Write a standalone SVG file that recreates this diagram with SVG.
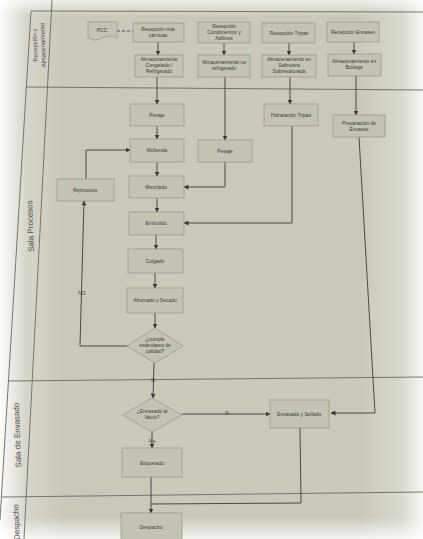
<svg xmlns="http://www.w3.org/2000/svg" width="423" height="539" viewBox="0 0 423 539">
<defs>
<style>
.bx{fill:#c4c2b3;stroke:#9c9b90;stroke-width:0.8}
.t{font-family:"Liberation Sans",Arial,sans-serif;font-size:5px;fill:#3c3c38;text-anchor:middle}
.ln{fill:none;stroke:#4a4a44;stroke-width:1}
.lane{fill:none;stroke:#6a6a60;stroke-width:0.9}
.lt{font-family:"Liberation Sans",Arial,sans-serif;font-size:8px;fill:#4a4a44;text-anchor:middle}
.lb{font-family:"Liberation Sans",Arial,sans-serif;font-size:5px;fill:#3c3c38;text-anchor:middle}
</style>
<marker id="ar" viewBox="0 0 10 10" refX="9" refY="5" markerWidth="5" markerHeight="5" orient="auto"><path d="M0,0L10,5L0,10z" fill="#3a3a34"/></marker>
<linearGradient id="gl" x1="0" y1="0" x2="1" y2="0">
<stop offset="0" stop-color="#ffffff" stop-opacity="0.95"/>
<stop offset="0.06" stop-color="#ffffff" stop-opacity="0.25"/>
<stop offset="0.15" stop-color="#ffffff" stop-opacity="0"/>
<stop offset="0.85" stop-color="#ffffff" stop-opacity="0"/>
<stop offset="0.95" stop-color="#ffffff" stop-opacity="0.3"/>
<stop offset="1" stop-color="#ffffff" stop-opacity="0.85"/>
</linearGradient>
<linearGradient id="gv" x1="0" y1="0" x2="0" y2="1">
<stop offset="0" stop-color="#ffffff" stop-opacity="0.7"/>
<stop offset="0.03" stop-color="#ffffff" stop-opacity="0"/>
<stop offset="0.96" stop-color="#ffffff" stop-opacity="0"/>
<stop offset="1" stop-color="#ffffff" stop-opacity="0.8"/>
</linearGradient>
</defs>
<rect width="423" height="539" fill="#cac8b9"/>
<rect width="423" height="539" fill="url(#gl)"/>
<rect width="423" height="539" fill="url(#gv)"/>

<g id="lanes">
<line class="lane" x1="31" y1="11" x2="423" y2="12"/>
<line class="lane" x1="31" y1="11" x2="0" y2="520"/>
<line class="lane" x1="52" y1="0" x2="24" y2="539"/>
<line class="lane" x1="26" y1="87" x2="423" y2="90"/>
<line class="lane" x1="8" y1="381" x2="423" y2="377"/>
<line class="lane" x1="2" y1="497" x2="423" y2="492"/>
<text class="lt" style="font-size:6px" transform="translate(37,45) rotate(-92)">Recepción y</text>
<text class="lt" style="font-size:6px" transform="translate(45,45) rotate(-92)">Almacenamiento</text>
<text class="lt" transform="translate(33,226) rotate(-92)">Sala Procesos</text>
<text class="lt" transform="translate(20,435) rotate(-92)">Sala de Envasado</text>
<text class="lt" transform="translate(19,522) rotate(-92)">Despacho</text>
</g>

<g id="connectors">
<line class="ln" x1="117" y1="31" x2="133" y2="31" stroke-dasharray="3,2"/>
<line class="ln" x1="158" y1="42" x2="158" y2="55" marker-end="url(#ar)"/>
<line class="ln" x1="224" y1="43" x2="224" y2="55" marker-end="url(#ar)"/>
<line class="ln" x1="289" y1="43" x2="289" y2="55" marker-end="url(#ar)"/>
<line class="ln" x1="354" y1="42" x2="354" y2="54" marker-end="url(#ar)"/>
<line class="ln" x1="157" y1="77" x2="157" y2="104" marker-end="url(#ar)"/>
<line class="ln" x1="225" y1="77" x2="225" y2="140" marker-end="url(#ar)"/>
<line class="ln" x1="290" y1="77" x2="290" y2="104" marker-end="url(#ar)"/>
<line class="ln" x1="356" y1="76" x2="356" y2="115" marker-end="url(#ar)"/>
<line class="ln" x1="157" y1="126" x2="157" y2="139" marker-end="url(#ar)"/>
<line class="ln" x1="157" y1="162" x2="157" y2="176" marker-end="url(#ar)"/>
<line class="ln" x1="157" y1="198" x2="157" y2="212" marker-end="url(#ar)"/>
<line class="ln" x1="156" y1="235" x2="156" y2="249" marker-end="url(#ar)"/>
<line class="ln" x1="155" y1="273" x2="155" y2="288" marker-end="url(#ar)"/>
<line class="ln" x1="155" y1="313" x2="155" y2="328" marker-end="url(#ar)"/>
<polyline class="ln" points="225,162 225,187 184,187" marker-end="url(#ar)"/>
<polyline class="ln" points="292,126 292,223 184,223" marker-end="url(#ar)"/>
<polyline class="ln" points="86,179 86,150 130,150" marker-end="url(#ar)"/>
<polyline class="ln" points="127,346 80,346 84,201" marker-end="url(#ar)"/>
<line class="ln" x1="154" y1="363" x2="153" y2="398" marker-end="url(#ar)"/>
<line class="ln" x1="182" y1="414" x2="270" y2="414" marker-end="url(#ar)"/>
<polyline class="ln" points="359,137 375,413 331,413" marker-end="url(#ar)"/>
<line class="ln" x1="152" y1="432" x2="152" y2="448" marker-end="url(#ar)"/>
<line class="ln" x1="151" y1="477" x2="151" y2="513" marker-end="url(#ar)"/>
<polyline class="ln" points="300,428 301,503 151,504"/>
<text class="lb" x="82" y="295">NO</text>
<text class="lb" x="153" y="382">Si</text>
<text class="lb" x="227" y="415">Si</text>
<text class="lb" x="152" y="443">No</text>
</g>

<g id="pcc"><path class="bx" d="M88,22 H117 V38 Q109,34 102,38 Q95,42 88,38 Z"/><text class="t" x="102" y="32">PCC</text></g>
<g id="rec_carnes"><rect class="bx" x="133" y="23" width="51" height="19"/><text class="t" x="158" y="31">Recepción mat</text><text class="t" x="158" y="37">cárnicas</text></g>
<g id="rec_condimentos"><rect class="bx" x="198" y="22" width="52" height="21"/><text class="t" x="224" y="28">Recepción</text><text class="t" x="224" y="34">Condimentos y</text><text class="t" x="224" y="40">Aditivos</text></g>
<g id="rec_tripas"><rect class="bx" x="262" y="23" width="53" height="20"/><text class="t" x="289" y="35">Recepción Tripas</text></g>
<g id="rec_envases"><rect class="bx" x="327" y="22" width="52" height="20"/><text class="t" x="353" y="34">Recepción Envases</text></g>

<g id="alm_congelado"><rect class="bx" x="135" y="55" width="48" height="22"/><text class="t" x="159" y="61">Almacenamiento</text><text class="t" x="159" y="67">Congelado /</text><text class="t" x="159" y="73">Refrigerado</text></g>
<g id="alm_norefrig"><rect class="bx" x="198" y="55" width="52" height="22"/><text class="t" x="224" y="64">Almacenamiento no</text><text class="t" x="224" y="70">refrigerado</text></g>
<g id="alm_salmuera"><rect class="bx" x="262" y="55" width="54" height="22"/><text class="t" x="289" y="61">Almacenamiento en</text><text class="t" x="289" y="67">Salmuera</text><text class="t" x="289" y="73">Sobresaturada</text></g>
<g id="alm_bodega"><rect class="bx" x="328" y="54" width="53" height="22"/><text class="t" x="354" y="63">Almacenamiento en</text><text class="t" x="354" y="69">Bodega</text></g>

<g id="pesaje1"><rect class="bx" x="130" y="104" width="54" height="22"/><text class="t" x="157" y="117">Pesaje</text></g>
<g id="molienda"><rect class="bx" x="130" y="139" width="54" height="23"/><text class="t" x="157" y="152">Molienda</text></g>
<g id="pesaje2"><rect class="bx" x="198" y="140" width="54" height="22"/><text class="t" x="225" y="153">Pesaje</text></g>
<g id="hidratacion"><rect class="bx" x="264" y="104" width="54" height="22"/><text class="t" x="291" y="117">Hidratación Tripas</text></g>
<g id="prep_envases"><rect class="bx" x="333" y="115" width="52" height="22"/><text class="t" x="359" y="125">Preparación de</text><text class="t" x="359" y="131">Envases</text></g>
<g id="reproceso"><rect class="bx" x="57" y="179" width="57" height="22"/><text class="t" x="85" y="192">Reproceso</text></g>
<g id="mezclado"><rect class="bx" x="129" y="176" width="55" height="22"/><text class="t" x="156" y="189">Mezclado</text></g>
<g id="embutido"><rect class="bx" x="129" y="212" width="55" height="23"/><text class="t" x="156" y="225">Embutido</text></g>
<g id="colgado"><rect class="bx" x="128" y="249" width="55" height="24"/><text class="t" x="155" y="263">Colgado</text></g>
<g id="ahumado"><rect class="bx" x="127" y="288" width="56" height="25"/><text class="t" x="155" y="302">Ahumado y Secado</text></g>
<g id="calidad"><polygon class="bx" points="155,328 183,346 155,363 127,346"/><text class="t" x="155" y="341">¿cumple</text><text class="t" x="155" y="347">estándares de</text><text class="t" x="155" y="353">calidad?</text></g>

<g id="vacio"><polygon class="bx" points="152,398 182,415 152,432 123,415"/><text class="t" x="152" y="413">¿Envasado al</text><text class="t" x="152" y="419">Vacío?</text></g>
<g id="envasado"><rect class="bx" x="270" y="400" width="59" height="28"/><text class="t" x="299" y="416">Envasado y Sellado</text></g>
<g id="etiquetado"><rect class="bx" x="122" y="448" width="60" height="29"/><text class="t" x="152" y="465">Etiquetado</text></g>
<g id="despacho"><rect class="bx" x="121" y="513" width="61" height="34"/><text class="t" x="151" y="529">Despacho</text></g>
</svg>
